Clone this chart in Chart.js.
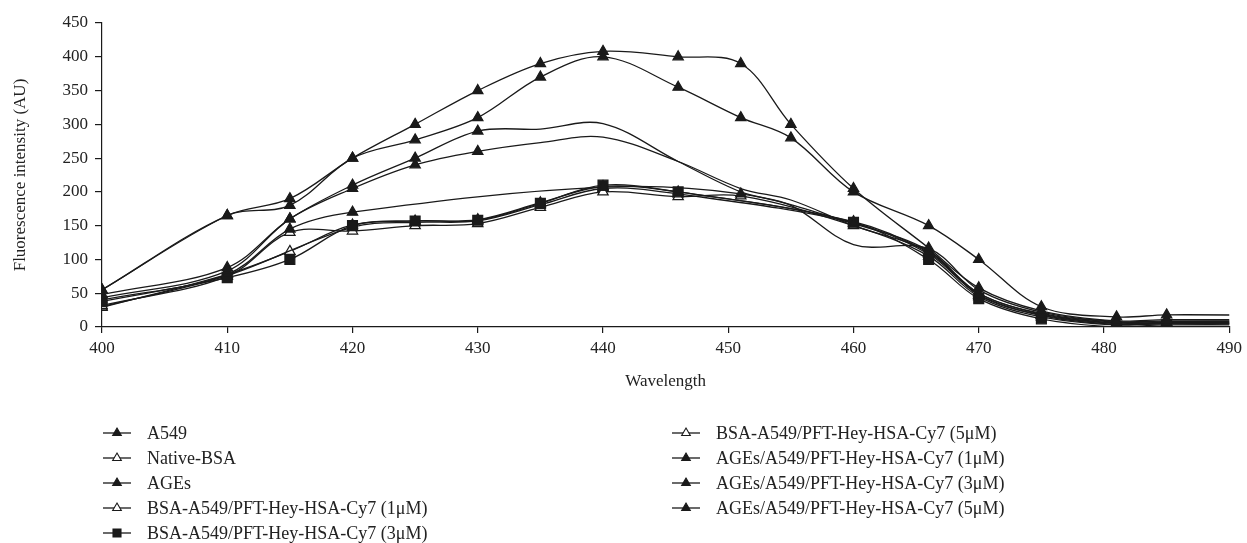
<!DOCTYPE html>
<html>
<head>
<meta charset="utf-8">
<script src="https://cdn.jsdelivr.net/npm/chart.js@4.4.0/dist/chart.umd.min.js"></script>
<style>
  html, body { margin: 0; padding: 0; background: #fff; }
  #contenedor { width: 1247px; height: 543px; }
</style>
</head>
<body>
<div id="contenedor"><canvas id="chart-espectro"></canvas></div>
<script>
// longitudes de onda (nm); 495 queda fuera del eje para que las lineas lleguen al borde
const longitudes = [400, 410, 415, 420, 425, 430, 435, 440, 446, 451, 455, 460, 466, 470, 475, 481, 485, 495];

const etiquetas = [
  "A549",
  "Native-BSA",
  "AGEs",
  "BSA-A549/PFT-Hey-HSA-Cy7 (1μM)",
  "BSA-A549/PFT-Hey-HSA-Cy7 (3μM)",
  "BSA-A549/PFT-Hey-HSA-Cy7 (5μM)",
  "AGEs/A549/PFT-Hey-HSA-Cy7 (1μM)",
  "AGEs/A549/PFT-Hey-HSA-Cy7 (3μM)",
  "AGEs/A549/PFT-Hey-HSA-Cy7 (5μM)",
];

const a549      = [55, 165, 190, 250, 300, 350, 390, 408, 400, 390, 300, 205, 117, 58, 24, 9, 11, 10];
const nativeBsa = [32, 75, 140, 142, 150, 153, 177, 200, 193, 194, null, 150, 105, 45, 15, 3, 5, 4];
const ages      = [55, 165, 180, 250, 277, 310, 370, 400, 355, 310, 280, 200, 150, 100, 30, 15, 18, 17];
const bsa1      = [30, 76, null, 148, 155, 157, 181, 205, 197, null, null, 154, 108, 48, 17, 4, 5, 5];
const bsa3      = [38, 73, 100, 150, 157, 158, 183, 210, 200, null, null, 155, 100, 42, 12, 0, 3, 3];
const bsa5      = [29, 78, 112, 151, 157, 159, 184, 208, 200, null, null, 156, 110, 50, 19, 6, 7, 6];
const ages1     = [48, 88, 160, 210, 250, 290, 293, 301, 245, 200, 180, 122, 116, 55, 22, 8, 9, 9];
const ages3     = [43, 83, 160, 205, 240, 260, 273, 281, 245, 205, 188, 150, 112, 50, 20, 7, 8, 8];
const ages5     = [40, 78, 145, 170, null, null, null, 207, null, 197, null, 153, 113, 47, 18, 5, 6, 6];

const series = [a549, nativeBsa, ages, bsa1, bsa3, bsa5, ages1, ages3, ages5];
const marcadores = ["lleno", "vacio", "lleno", "vacio", "cuadro", "vacio", "lleno", "lleno", "lleno"];
// hasta que longitud se ven los marcadores (las curvas 1 y 3 uM no los muestran despues de 430)
const marcasHasta = [999, 999, 999, 999, 999, 999, 430, 430, 999];

const NEGRO = "#1a1a1a";
const FUENTE = "'Liberation Serif', 'Times New Roman', serif";

const puntos = vals =>
  longitudes.map((x, i) => ({ x: x, y: vals[i] })).filter(p => p.y !== null);

const datasets = series.map((vals, i) => {
  const tipo = marcadores[i];
  const limite = marcasHasta[i];
  const radio = tipo === "cuadro" ? 7 : 6;
  return {
    label: etiquetas[i],
    data: puntos(vals),
    borderColor: NEGRO,
    borderWidth: 1.3,
    pointStyle: tipo === "cuadro" ? "rect" : "triangle",
    pointBackgroundColor: tipo === "vacio" ? "#fff" : NEGRO,
    pointBorderColor: NEGRO,
    pointBorderWidth: 1.2,
    pointRadius: ctx => (ctx.raw && ctx.raw.x > limite ? 0 : radio),
    tension: 0.35,
    fill: false,
    order: tipo === "vacio" ? 2 : tipo === "cuadro" ? 1 : 0,
    marca: tipo,
  };
});

const dibujarMarca = (ctx, tipo, x, y, r) => {
  ctx.beginPath();
  if (tipo === "cuadro") {
    ctx.rect(x - r, y - r, 2 * r, 2 * r);
  } else {
    ctx.moveTo(x, y - r);
    ctx.lineTo(x + r * 0.866, y + r / 2);
    ctx.lineTo(x - r * 0.866, y + r / 2);
    ctx.closePath();
  }
  ctx.fillStyle = tipo === "vacio" ? "#fff" : NEGRO;
  ctx.fill();
  ctx.lineWidth = 1.1;
  ctx.strokeStyle = NEGRO;
  ctx.stroke();
};

const leyenda = {
  id: "leyenda",
  afterDraw(chart) {
    const ctx = chart.ctx;
    ctx.save();
    ctx.font = "18px " + FUENTE;
    ctx.textBaseline = "middle";
    ctx.textAlign = "left";
    chart.data.datasets.forEach((ds, i) => {
      const col = i < 5 ? 0 : 1;
      const fila = i < 5 ? i : i - 5;
      const x0 = col === 0 ? 103 : 672;
      const y = 433 + fila * 25;
      ctx.strokeStyle = NEGRO;
      ctx.lineWidth = 1.3;
      ctx.beginPath();
      ctx.moveTo(x0, y);
      ctx.lineTo(x0 + 28, y);
      ctx.stroke();
      dibujarMarca(ctx, ds.marca, x0 + 14, y, ds.marca === "cuadro" ? 4 : 5);
      ctx.fillStyle = "#222";
      ctx.fillText(ds.label, x0 + 44, y + 1);
    });
    ctx.restore();
  },
};

const configuracion = {
  type: "line",
  data: { datasets: datasets },
  options: {
    responsive: true,
    maintainAspectRatio: false,
    animation: false,
    layout: { padding: { top: 23, right: 14, left: 0, bottom: 149 } },
    plugins: { legend: { display: false }, tooltip: { enabled: false } },
    scales: {
      x: {
        type: "linear",
        min: 400,
        max: 490,
        ticks: { stepSize: 10, color: "#222", padding: 5, font: { family: FUENTE, size: 17 } },
        grid: { drawOnChartArea: false, drawTicks: true, tickLength: 6, color: NEGRO, lineWidth: 1.2 },
        border: { display: true, color: NEGRO, width: 1.2 },
        title: {
          display: true,
          text: "Wavelength",
          color: "#222",
          font: { family: FUENTE, size: 17 },
          padding: { top: 0, bottom: 2 },
        },
        afterFit: scale => { scale.height = 67; },
      },
      y: {
        min: 0,
        max: 450,
        ticks: { stepSize: 50, color: "#222", padding: 7, font: { family: FUENTE, size: 17 } },
        grid: { drawOnChartArea: false, drawTicks: true, tickLength: 7, color: NEGRO, lineWidth: 1.2 },
        border: { display: true, color: NEGRO, width: 1.2 },
        title: {
          display: true,
          text: "Fluorescence intensity (AU)",
          color: "#222",
          font: { family: FUENTE, size: 17 },
          padding: { top: 10, bottom: 0 },
        },
        afterFit: scale => { scale.width = 102; },
      },
    },
  },
  plugins: [leyenda],
};

const grafico = new Chart(document.querySelector("#chart-espectro").getContext("2d"), configuracion);
</script>
</body>
</html>
